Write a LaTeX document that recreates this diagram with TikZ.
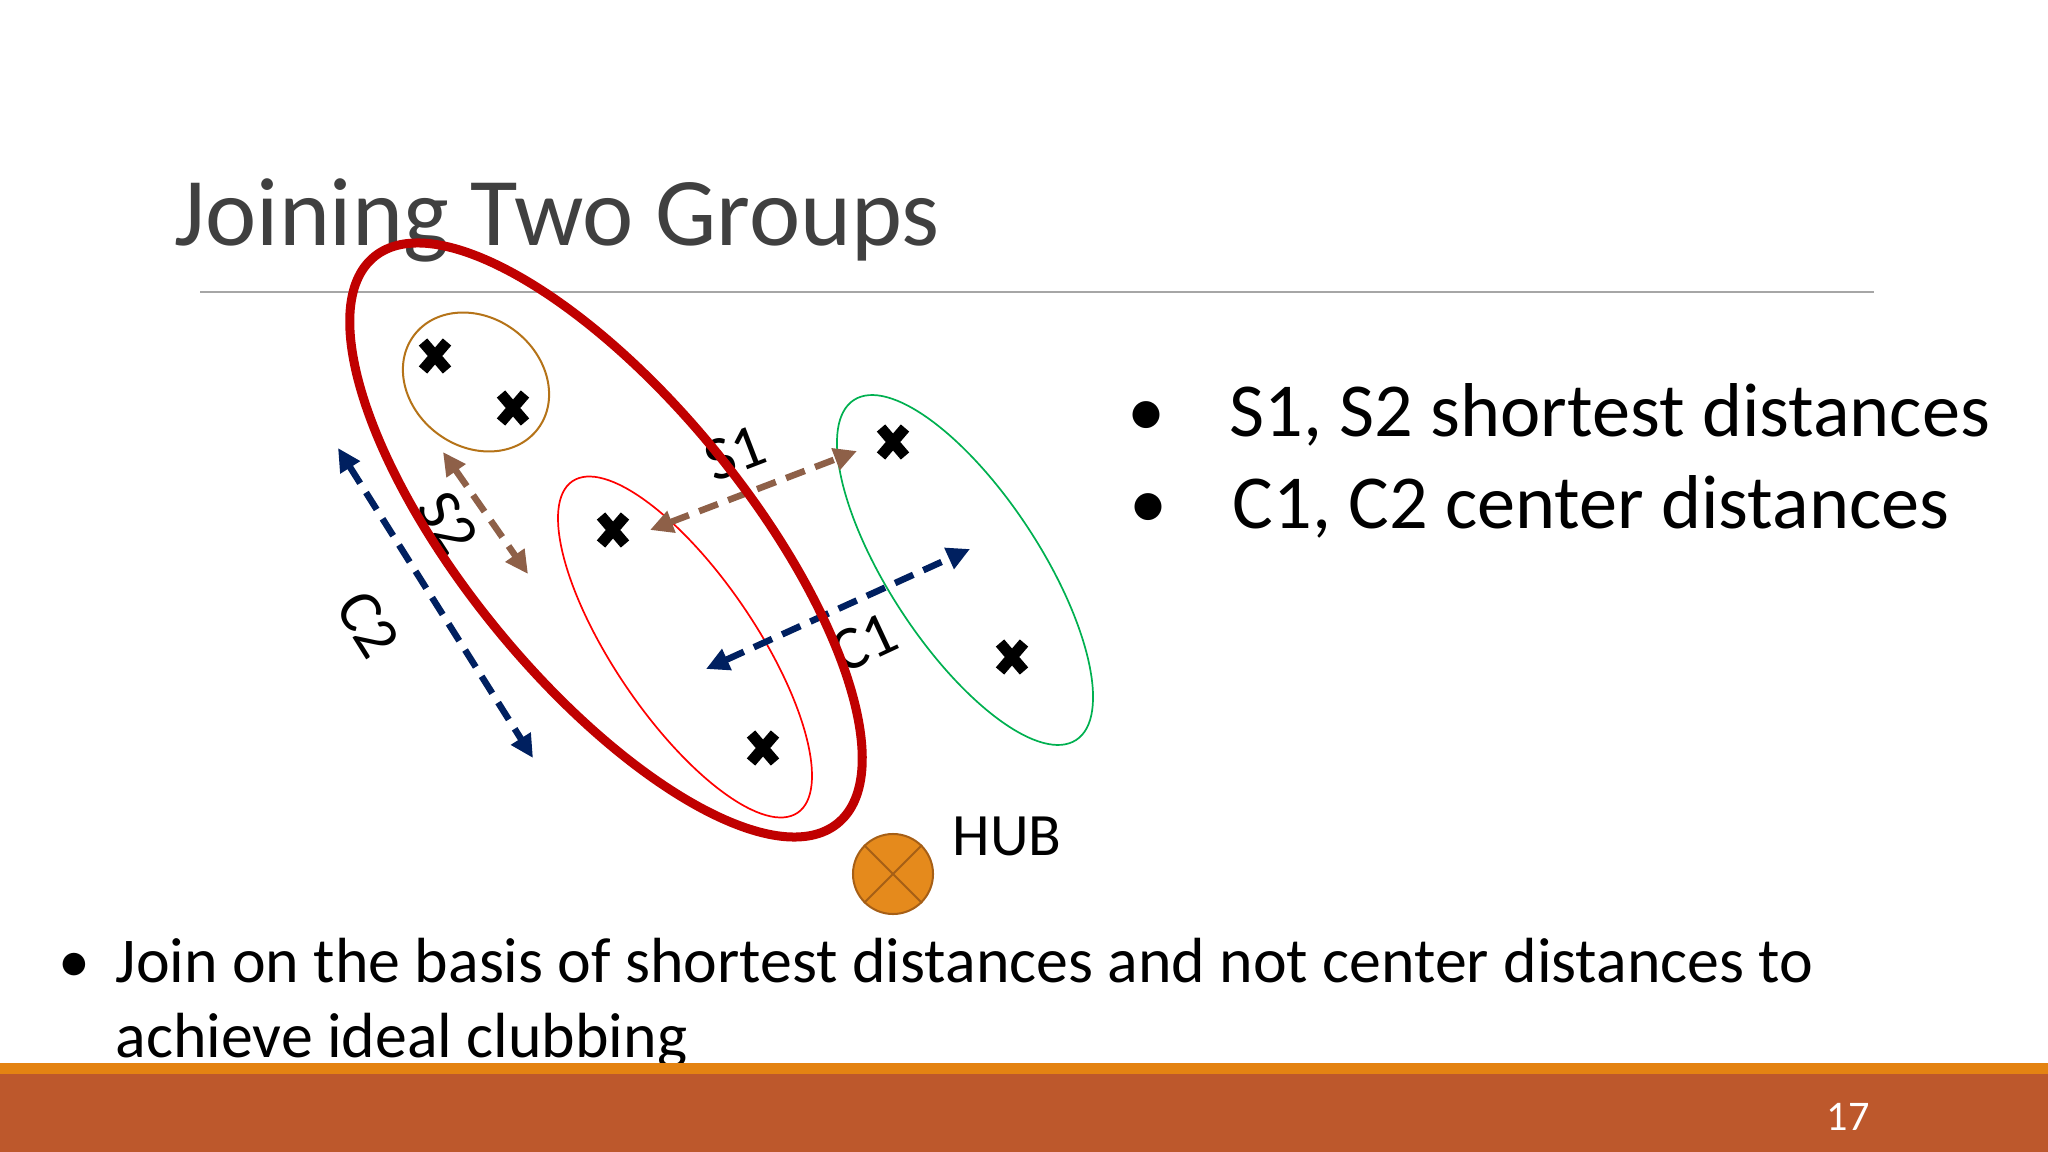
\documentclass[tikz,border=0pt]{standalone}
\usepackage{fontspec}
\setmainfont{Carlito}
\usetikzlibrary{arrows.meta}
\definecolor{titlegray}{HTML}{404040}
\definecolor{rulegray}{HTML}{A6A6A6}
\definecolor{bigred}{HTML}{C00000}
\definecolor{thinred}{HTML}{FF0000}
\definecolor{grp}{HTML}{00B050}
\definecolor{brcirc}{HTML}{B57318}
\definecolor{brarrow}{RGB}{142,96,72}
\definecolor{navy}{HTML}{002060}
\definecolor{hubfill}{HTML}{E58A1C}
\definecolor{hubedge}{HTML}{A65F16}
\definecolor{stripe}{HTML}{E48312}
\definecolor{bar}{HTML}{BD582C}
\tikzset{
  txt/.style={anchor=base west, inner sep=0pt},
  bul/.style={anchor=base, inner sep=0pt},
  bigfont/.style={font=\fontsize{21.7}{26}\selectfont},
  smallfont/.style={font=\fontsize{18.15}{22}\selectfont},
  lbl/.style={inner sep=0pt, font=\fontsize{17.6}{21}\selectfont},
  dasharrow/.style={line width=0.065cm, dash pattern=on 0.2cm off 0.11cm,
     {Triangle[length=0.23cm,width=0.22cm]}-{Triangle[length=0.23cm,width=0.22cm]}},
  xm/.pic={\draw[line width=0.11cm] (-12,-14)--(12,14) (-12,14)--(12,-14);}
}
\begin{document}
\begin{tikzpicture}[x=0.01cm,y=-0.01cm]
\useasboundingbox (0,0) rectangle (2048,1152);
\fill[white] (0,0) rectangle (2048,1152);

% title and rule
\node[txt, font=\fontsize{27.6}{34}\selectfont, text=titlegray] (title) at (174,246) {Joining Two Groups};
\coordinate (rl) at (200,292);
\coordinate (rr) at (1874,292);
\draw[rulegray, line width=0.018cm] (rl) -- (rr);

% group ellipses
\draw[brcirc, line width=0.02cm, rotate around={-37:(476,382)}] (476,382) ellipse [x radius=77.6, y radius=64.4];
\draw[thinred, line width=0.017cm, rotate around={-55.8:(685,647)}] (685,647) ellipse [x radius=200.4, y radius=70.9];
\draw[grp, line width=0.017cm, rotate around={-56.8:(965,570)}] (965,570) ellipse [x radius=203.1, y radius=75.8];

% labels
\node[lbl, rotate=21] (ls1) at (735,453) {S1};
\node[lbl, rotate=-57] (ls2) at (448,523) {S2};
\node[lbl, rotate=25] (lc1) at (864,643) {C1};
\node[lbl, rotate=-58] (lc2) at (368,624) {C2};

% arrows
\coordinate (s1a) at (650,530); \coordinate (s1b) at (857,451);
\coordinate (s2a) at (443,452); \coordinate (s2b) at (528,574);
\coordinate (c1a) at (706,669); \coordinate (c1b) at (970,549);
\coordinate (c2a) at (338,448); \coordinate (c2b) at (533,758);
\draw[dasharrow, brarrow] (s1a) -- (s1b);
\draw[dasharrow, brarrow] (s2a) -- (s2b);
\draw[dasharrow, navy] (c1a) -- (c1b);
\draw[dasharrow, navy] (c2a) -- (c2b);

% big joined group
\draw[bigred, line width=0.09cm, rotate around={-50.7:(606,540)}] (606,540) ellipse [x radius=366, y radius=141];

% points
\pic at (435,356) {xm};
\pic at (513,408) {xm};
\pic at (613,530) {xm};
\pic at (763,748) {xm};
\pic at (893,442) {xm};
\pic at (1012,657) {xm};

% hub
\node[circle, draw=hubedge, fill=hubfill, line width=0.02cm, minimum size=0.8cm, inner sep=0pt] (hub) at (893,874) {};
\draw[hubedge, line width=0.02cm] (hub.north west) -- (hub.south east) (hub.north east) -- (hub.south west);
\node[txt, font=\fontsize{17.1}{20}\selectfont] (hublbl) at (952,855) {HUB};

% right bullets
\node[bul, bigfont] (b1) at (1146,437) {•};
\node[txt, bigfont] (t1) at (1229,437) {S1, S2 shortest distances};
\node[bul, bigfont] (b2) at (1148,528) {•};
\node[txt, bigfont] (t2) at (1232,528) {C1, C2 center distances};

% bottom bullet
\node[bul, smallfont] (b3) at (74,982) {•};
\node[txt, smallfont] (t3) at (115,982) {Join on the basis of shortest distances and not center distances to};
\node[txt, smallfont] (t4) at (115,1057) {achieve ideal clubbing};

% footer
\fill[stripe] (0,1063) rectangle (2048,1074);
\fill[bar] (0,1074) rectangle (2048,1152);
\node[txt, text=white, font=\fontsize{12}{14}\selectfont] (pg) at (1826,1130) {17};
\end{tikzpicture}
\end{document}
